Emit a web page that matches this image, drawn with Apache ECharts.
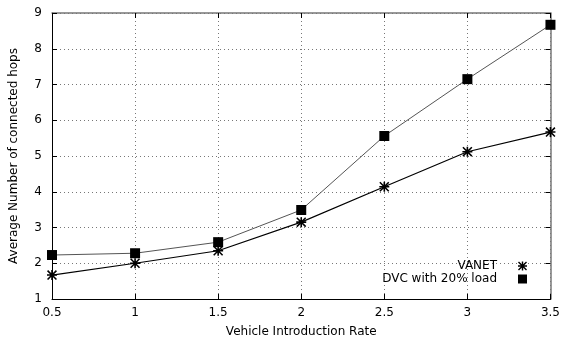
<!DOCTYPE html>
<html><head><meta charset="utf-8">
<script src="https://cdn.jsdelivr.net/npm/echarts@6/dist/echarts.min.js"></script>
<style>html,body{margin:0;padding:0;background:#fff}#c{width:563px;height:345px}</style>
</head><body><div id="c"></div>
<script>
const xValues = [0.5, 1, 1.5, 2, 2.5, 3, 3.5];
const vanet = [1.67, 2.0, 2.35, 3.15, 4.14, 5.12, 5.67];
const dvc = [2.23, 2.28, 2.59, 3.49, 5.56, 7.15, 8.67];
const seriesNames = ['VANET', 'DVC with 20% load'];
const xTitle = 'Vehicle Introduction Rate';
const yTitle = 'Average Number of connected hops';

const asterisk = 'path://M0,4.2L10,4.2L10,5.8L0,5.8Z M4.2,0L5.8,0L5.8,10L4.2,10Z M1.1,0L10,8.9L8.9,10L0,1.1Z M8.9,0L10,1.1L1.1,10L0,8.9Z';
const square = 'path://M0,0L10,0L10,10L0,10Z';
const font = 'DejaVu Sans';

const chart = echarts.init(document.getElementById('c'), null, {renderer: 'canvas'});
const axisBase = {
  axisLine: {show: true, onZero: false, lineStyle: {color: '#000', width: 1}},
  axisTick: {show: true, inside: true, length: 5, lineStyle: {color: '#000'}},
};
chart.setOption({
  animation: false,
  backgroundColor: '#fff',
  grid: {left: 50, right: 10, top: 13, bottom: 46, containLabel: false},
  xAxis: [
    Object.assign({}, axisBase, {
      type: 'value', min: 0.5, max: 3.5, interval: 0.5, position: 'bottom',
      name: xTitle, nameLocation: 'middle', nameGap: 27,
      nameTextStyle: {fontFamily: font, fontSize: 12, color: '#000'},
      axisLabel: {fontFamily: font, fontSize: 12, color: '#000', margin: 8, showMinLabel: true, showMaxLabel: true},
      splitLine: {show: true, lineStyle: {type: [1, 3], color: '#777', width: 1}}
    }),
    Object.assign({}, axisBase, {
      type: 'value', min: 0.5, max: 3.5, interval: 0.5, position: 'top',
      axisLabel: {show: false}, splitLine: {show: false},
      axisLine: {show: true, onZero: false, lineStyle: {color: '#777', width: 1.5}}
    })
  ],
  yAxis: [
    Object.assign({}, axisBase, {
      type: 'value', min: 1, max: 9, interval: 1, position: 'left',
      name: yTitle, nameLocation: 'middle', nameGap: 32,
      nameTextStyle: {fontFamily: font, fontSize: 12, color: '#000'},
      axisLabel: {fontFamily: font, fontSize: 12, color: '#000', margin: 10},
      splitLine: {show: true, lineStyle: {type: [1, 3], color: '#777', width: 1}}
    }),
    Object.assign({}, axisBase, {
      type: 'value', min: 1, max: 9, interval: 1, position: 'right',
      axisLabel: {show: false}, splitLine: {show: false},
      axisLine: {show: true, onZero: false, lineStyle: {color: '#777', width: 1.5}}
    })
  ],
  legend: [
    {data: [{name: seriesNames[0], icon: asterisk}], orient: 'vertical', right: 31, top: 255,
     align: 'right', itemWidth: 41, itemHeight: 9, symbolKeepAspect: true,
     textStyle: {fontFamily: font, fontSize: 12, color: '#000'}},
    {data: [{name: seriesNames[1], icon: square}], orient: 'vertical', right: 31, top: 268,
     align: 'right', itemWidth: 41, itemHeight: 9, symbolKeepAspect: true,
     textStyle: {fontFamily: font, fontSize: 12, color: '#000'}}
  ],
  series: [
    {name: seriesNames[1], type: 'line', data: xValues.map((x, i) => [x, dvc[i]]),
     symbol: square, symbolSize: 10, showAllSymbol: true,
     lineStyle: {color: '#555', width: 1}, itemStyle: {color: '#000'}, z: 2},
    {name: seriesNames[0], type: 'line', data: xValues.map((x, i) => [x, vanet[i]]),
     symbol: asterisk, symbolSize: 10, showAllSymbol: true,
     lineStyle: {color: '#000', width: 1.2}, itemStyle: {color: '#000'}, z: 3}
  ]
});
</script></body></html>
